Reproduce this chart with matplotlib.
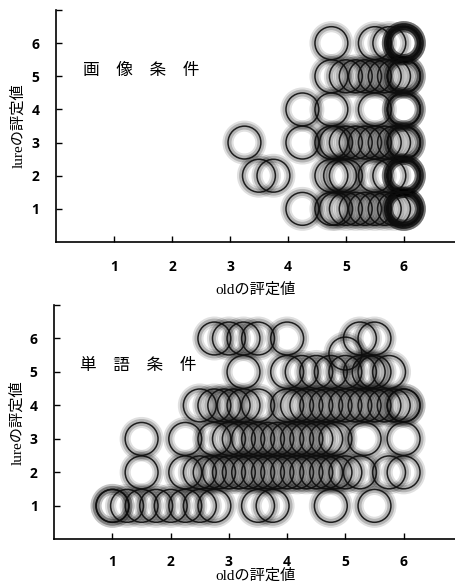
import matplotlib
matplotlib.use("Agg")
import matplotlib.pyplot as plt
import numpy as np

# ---------------- data ----------------
# 画像条件 (image condition): old rating mean vs lure rating
img_old = [4.75, 5.5, 5.75, 6, 6, 6, 6, 6, 6,
           4.75, 5.0, 5.17, 5.33, 5.5, 5.67, 5.83, 6, 6, 6,
           4.25, 4.75, 5.5, 6, 6, 6,
           3.25, 4.25, 4.75, 4.83, 5.0, 5.17, 5.33, 5.5, 5.67, 5.83, 6, 6, 6,
           3.5, 3.75, 4.75, 4.9, 5.0, 5.5, 5.75, 6, 6, 6, 6, 6,
           4.25, 4.75, 4.83, 5.0, 5.17, 5.33, 5.5, 5.67, 5.83, 6, 6, 6, 6, 6, 6]
img_lure = [6]*9 + [5]*10 + [4]*6 + [3]*13 + [2]*12 + [1]*15

# 単語条件 (word condition)
word_old = [2.75, 3.0, 3.25, 3.5, 4.0, 5.25, 5.5,
            5.0,
            3.25, 4.0, 4.25, 4.5, 4.75, 5.0, 5.25, 5.4, 5.5, 5.75,
            2.5, 2.75, 2.92, 3.08, 3.25, 3.5, 4.0, 4.17, 4.33, 4.5, 4.67,
            4.83, 5.0, 5.17, 5.33, 5.5, 5.67, 5.83, 6.0, 6.0,
            1.5, 2.25, 2.75, 3.0, 3.17, 3.33, 3.5, 3.67, 3.83, 4.0, 4.17,
            4.33, 4.5, 4.67, 4.83, 5.33, 6.0,
            1.5, 2.25, 2.5, 2.67, 2.83, 3.0, 3.17, 3.33, 3.5, 3.67, 3.83,
            4.0, 4.17, 4.33, 4.5, 4.67, 4.83, 5.0, 5.25, 5.75, 6.0,
            1.0, 1.0, 1.25, 1.5, 1.75, 2.0, 2.25, 2.5, 2.75, 3.5, 3.75, 4.75, 5.5]
word_lure = ([6]*7 + [5.55] + [5]*10 + [4]*20 + [3]*17 + [2]*21 + [1]*13)

ticks = [1, 2, 3, 4, 5, 6]
xlabel = "oldの評定値"
ylabel = "lureの評定値"
titles = ["画　像　条　件", "単　語　条　件"]

# ---------------- figure ----------------
fig = plt.figure(figsize=(4.56, 5.84), dpi=100)
cjk_serif = ["Liberation Serif", "Noto Sans CJK JP"]
cjk_sans = ["Noto Sans CJK JP", "DejaVu Sans"]

axes_pos = [[0.123, 0.5856, 0.877, 0.3973],
            [0.119, 0.0765, 0.881, 0.4012]]
datasets = [(img_old, img_lure), (word_old, word_lure)]
title_pos = [(0.47, 5.17), (0.44, 5.2)]
xlabel_pads = [6, 0]
xtick_pads = [13, 11]

for i, (pos, (xs, ys), title) in enumerate(zip(axes_pos, datasets, titles)):
    ax = fig.add_axes(pos)
    ax.set_xlim(0, 6.9)
    ax.set_ylim(0, 7)
    for s in ["top", "right"]:
        ax.spines[s].set_visible(False)
    for s in ["left", "bottom"]:
        ax.spines[s].set_linewidth(1.2)
    size = 560
    # soft glow layers
    ax.scatter(xs, ys, s=size, facecolors="none", edgecolors=[(0, 0, 0, 0.12)],
               linewidths=8, clip_on=False)
    ax.scatter(xs, ys, s=size, facecolors="none", edgecolors=[(0, 0, 0, 0.2)],
               linewidths=5, clip_on=False)
    # crisp ring
    ax.scatter(xs, ys, s=size, facecolors="none", edgecolors=[(0.05, 0.05, 0.05, 0.9)],
               linewidths=1.1, clip_on=False)
    ax.set_xticks(ticks)
    ax.set_yticks(ticks + [7])
    ax.set_yticklabels([str(t) for t in ticks] + [""])
    ax.tick_params(direction="in", length=4, width=1, labelsize=10)
    for lab in ax.get_xticklabels() + ax.get_yticklabels():
        lab.set_fontfamily(["Open Sans", "DejaVu Sans"])
        lab.set_fontweight("bold")
    ax.tick_params(axis="x", pad=xtick_pads[i])
    ax.tick_params(axis="y", pad=12)
    ax.set_xlabel(xlabel, family=cjk_serif, fontsize=11, labelpad=xlabel_pads[i])
    ax.set_ylabel(ylabel, family=cjk_serif, fontsize=11, labelpad=4)
    ax.text(title_pos[i][0], title_pos[i][1], title, family=cjk_sans,
            fontsize=12, ha="left", va="center")

fig.savefig("out.png", dpi=100)
